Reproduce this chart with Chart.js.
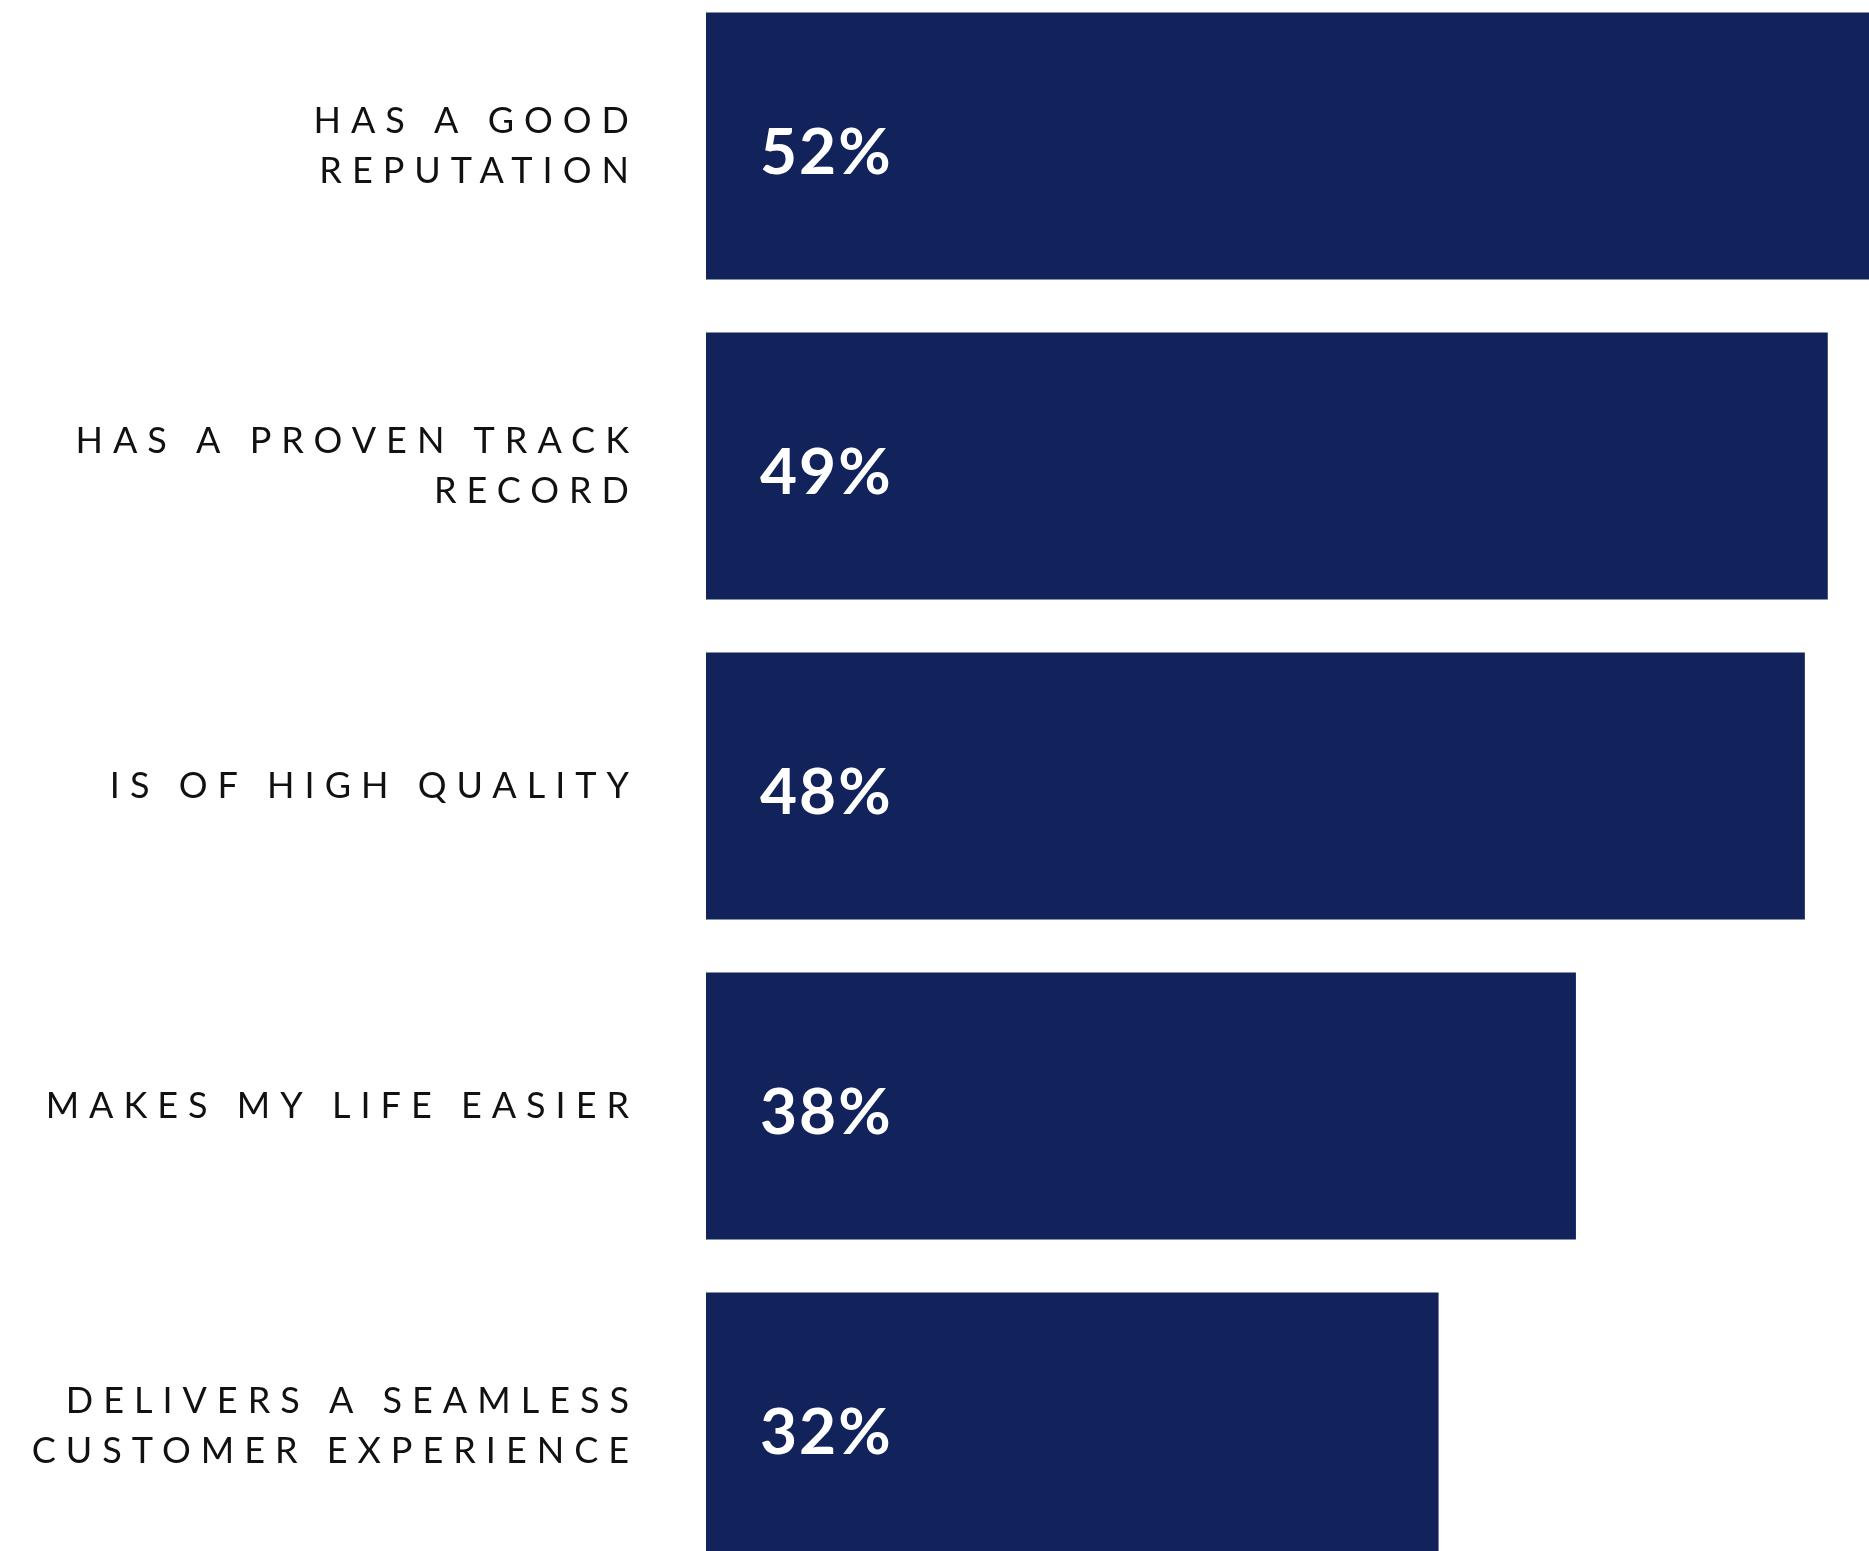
<!DOCTYPE html>
<html>
<head>
<meta charset="utf-8">
<script src="https://cdn.jsdelivr.net/npm/chart.js@4.4.1/dist/chart.umd.min.js"></script>
<style>
  html, body { margin: 0; padding: 0; background: #fff; overflow: hidden; width: 1869px; height: 1551px; }
  #wrap { position: absolute; left: 0; top: -14px; }
</style>
</head>
<body>
<div id="wrap"><canvas id="chart" width="1988" height="1600"></canvas></div>
<script>
const categories = [
  ['HAS A GOOD', 'REPUTATION'],
  ['HAS A PROVEN TRACK', 'RECORD'],
  'IS OF HIGH QUALITY',
  'MAKES MY LIFE EASIER',
  ['DELIVERS A SEAMLESS', 'CUSTOMER EXPERIENCE']
];
const shares = [52, 49, 48, 38, 32];
const xMax = 56;

const navy = '#12225A';
const labelSpacing = '10px';

// spaced-out caps for the category axis, normal spacing for everything else
const spacedTicks = {
  id: 'spacedTicks',
  beforeDraw(chart) {
    chart.ctx.letterSpacing = labelSpacing;
  },
  beforeDatasetsDraw(chart) {
    chart.ctx.letterSpacing = '0px';
  }
};

// value inside each bar, near its base
const valueLabels = {
  id: 'valueLabels',
  afterDatasetsDraw(chart) {
    const ctx = chart.ctx;
    const meta = chart.getDatasetMeta(0);
    ctx.save();
    ctx.letterSpacing = '2px';
    ctx.fillStyle = '#ffffff';
    ctx.font = 'bold 64px Lato';
    ctx.textAlign = 'left';
    ctx.textBaseline = 'alphabetic';
    meta.data.forEach((bar, i) => {
      ctx.fillText(shares[i] + '%', bar.base + 54, bar.y + 28);
    });
    ctx.restore();
  }
};

new Chart(document.getElementById('chart'), {
  type: 'bar',
  data: {
    labels: categories,
    datasets: [{
      data: shares,
      backgroundColor: navy,
      borderWidth: 0,
      barPercentage: 0.834,
      categoryPercentage: 1.0
    }]
  },
  options: {
    indexAxis: 'y',
    responsive: false,
    animation: false,
    layout: { padding: 0 },
    plugins: {
      legend: { display: false },
      tooltip: { enabled: false }
    },
    scales: {
      x: {
        display: false,
        min: 0,
        max: xMax
      },
      y: {
        grid: { display: false, drawTicks: false },
        border: { display: false },
        ticks: {
          color: '#111111',
          padding: 67,
          font: { family: 'Lato', size: 36, weight: 'normal', lineHeight: 1.39 }
        },
        afterFit(scale) {
          // the bands run off the top and bottom edge, so no room is kept for labels there
          scale.width = 706;
          scale.paddingTop = 0;
          scale.paddingBottom = 0;
        }
      }
    }
  },
  plugins: [spacedTicks, valueLabels]
});
</script>
</body>
</html>
